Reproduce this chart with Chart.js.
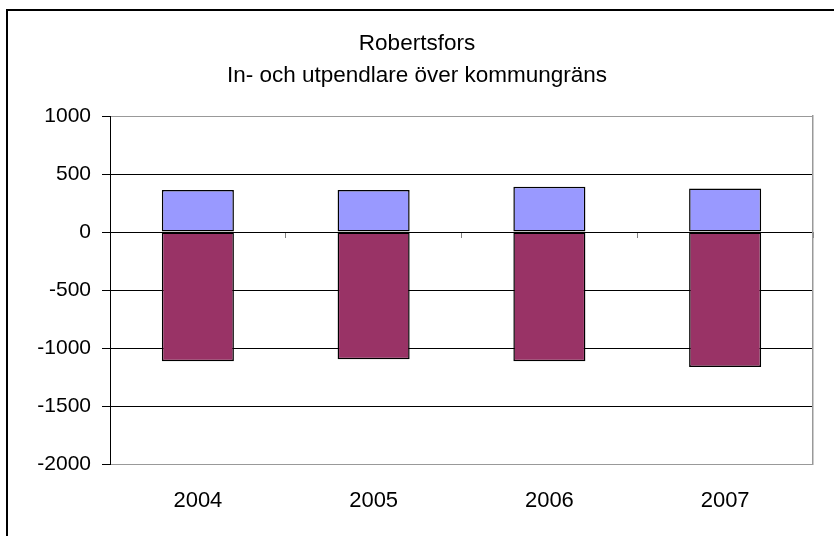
<!DOCTYPE html>
<html>
<head>
<meta charset="utf-8">
<script src="https://cdn.jsdelivr.net/npm/chart.js@4/dist/chart.umd.min.js"></script>
<style>
  html, body { margin: 0; padding: 0; background: #fff; }
  #wrap { position: relative; width: 834px; height: 536px; overflow: hidden; }
  #frame { position: absolute; left: 6px; top: 9px; width: 900px; height: 600px;
           border-top: 2px solid #000; border-left: 2px solid #000; pointer-events: none; }
</style>
</head>
<body>
<div id="wrap">
  <canvas id="c" width="834" height="536"></canvas>
  <div id="frame"></div>
</div>
<script>
const categories = ['2004', '2005', '2006', '2007'];
const inpendlare = [362, 362, 390, 376];
const utpendlare = [-1115, -1098, -1115, -1164];
const titleLines = ['Robertsfors', 'In- och utpendlare över kommungräns'];
const yMin = -2000, yMax = 1000, yStep = 500;

const FONT = "'Liberation Sans', Arial, sans-serif";
const TITLE_SIZE = 22.5, X_SIZE = 22, Y_SIZE = 21;

new Chart(document.getElementById('c'), {
  type: 'bar',
  data: {
    labels: categories,
    datasets: [
      { label: 'Inpendlare', data: inpendlare, backgroundColor: '#9999FF',
        borderColor: '#000', borderWidth: 1.5, borderSkipped: false },
      { label: 'Utpendlare', data: utpendlare, backgroundColor: '#993366',
        borderColor: '#000', borderWidth: 1.5, borderSkipped: false }
    ]
  },
  options: {
    responsive: false,
    animation: false,
    devicePixelRatio: 1,
    layout: { padding: { top: 10, left: 0, right: 0, bottom: 0 } },
    datasets: { bar: { categoryPercentage: 1, barPercentage: 0.41 } },
    plugins: {
      legend: { display: false },
      tooltip: { enabled: false },
      title: {
        display: true, text: titleLines, color: '#000',
        font: { family: FONT, size: TITLE_SIZE, weight: 'normal', lineHeight: 32/TITLE_SIZE },
        padding: { top: 18, bottom: 24 }
      }
    },
    scales: {
      x: {
        stacked: true,
        grid: { display: false, drawTicks: false },
        border: { display: false },
        ticks: { color: '#000', font: { family: FONT, size: X_SIZE }, padding: 24 },
        afterFit: s => { s.height = 72; }
      },
      x2: {
        type: 'category', labels: categories,
        position: { y: 0 },
        grid: { offset: true, drawOnChartArea: false, drawTicks: true, tickLength: 6, color: '#808080' },
        border: { display: false },
        ticks: { display: false }
      },
      y: {
        stacked: true,
        min: yMin, max: yMax,
        ticks: { stepSize: yStep, color: '#000', font: { family: FONT, size: Y_SIZE }, padding: 11,
                 callback: v => String(v) },
        grid: {
          color: ctx => (ctx.tick && (ctx.tick.value === yMax || ctx.tick.value === yMin)) ? '#999' : '#000',
          tickColor: '#000', tickLength: 8, lineWidth: 1
        },
        border: { color: '#000', width: 1 },
        afterFit: s => { s.width = 110; }
      },
      y2: {
        position: 'right',
        grid: { display: false },
        ticks: { display: false },
        border: { color: '#999', width: 1.5 },
        afterFit: s => { s.width = 21; }
      }
    }
  }
});
</script>
</body>
</html>
